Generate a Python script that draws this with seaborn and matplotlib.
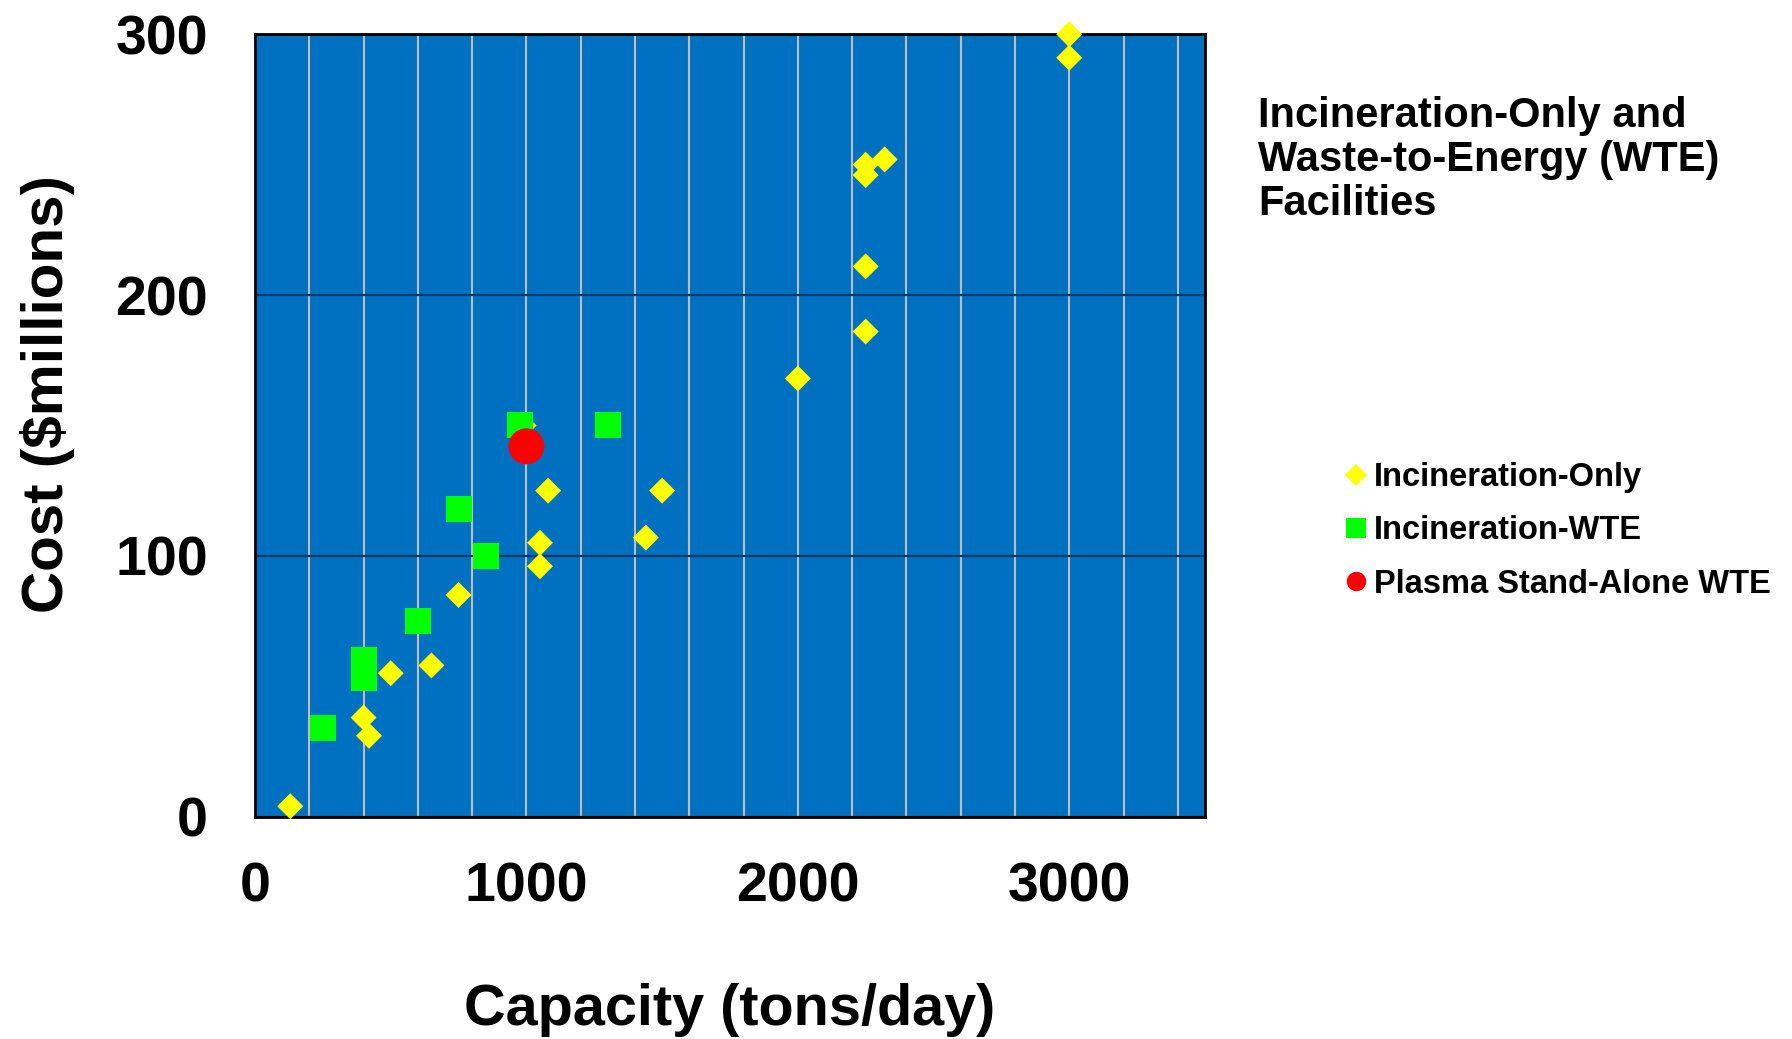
import matplotlib.pyplot as plt
import pandas as pd
import seaborn as sns
from matplotlib.lines import Line2D
from matplotlib.ticker import MultipleLocator

# capacity (tons/day) and cost ($ millions)
only_capacity = [130, 400, 420, 500, 650, 750, 990, 1050, 1050, 1080, 1440, 1500,
                 2000, 2250, 2250, 2250, 2250, 2320, 3000, 3000]
only_cost = [4, 38, 31, 55, 58, 85, 150, 105, 96, 125, 107, 125,
             168, 186, 211, 246, 250, 252, 291, 300]

wte_capacity = [250, 400, 400, 600, 750, 850, 975, 1300]
wte_cost = [34, 53, 60, 75, 118, 100, 150, 150]

plasma_capacity = [1000]
plasma_cost = [142]

x_ticks = [0, 1000, 2000, 3000]
y_ticks = [0, 100, 200, 300]

df_only = pd.DataFrame({"capacity": only_capacity, "cost": only_cost})
df_wte = pd.DataFrame({"capacity": wte_capacity, "cost": wte_cost})
df_plasma = pd.DataFrame({"capacity": plasma_capacity, "cost": plasma_cost})

sns.set_style("white")
plt.rcParams["font.family"] = ["Liberation Sans", "DejaVu Sans"]
plt.rcParams["font.weight"] = "bold"
plt.rcParams["text.color"] = "black"
plt.rcParams["axes.labelcolor"] = "black"
plt.rcParams["xtick.labelcolor"] = "black"
plt.rcParams["ytick.labelcolor"] = "black"

fig = plt.figure(figsize=(17.92, 10.39), dpi=100)
ax = fig.add_axes([0.1423, 0.214, 0.5301, 0.753])
ax.set_facecolor("#0070C0")

sns.scatterplot(data=df_only, x="capacity", y="cost", ax=ax, marker="D", s=175,
                color="#FFFF00", edgecolor="none", linewidth=0, clip_on=False, zorder=3, legend=False)
sns.scatterplot(data=df_wte, x="capacity", y="cost", ax=ax, marker="s", s=350,
                color="#00FF00", edgecolor="none", linewidth=0, clip_on=False, zorder=4, legend=False)
sns.scatterplot(data=df_plasma, x="capacity", y="cost", ax=ax, marker="o", s=670,
                color="#FF0000", edgecolor="none", linewidth=0, clip_on=False, zorder=5, legend=False)

ax.set_xlim(0, 3500)
ax.set_ylim(0, 300)
ax.set_xticks(x_ticks)
ax.set_yticks(y_ticks)
ax.xaxis.set_minor_locator(MultipleLocator(200))
ax.grid(which="minor", axis="x", color="#BDBDBD", linewidth=1.5, zorder=1)
ax.grid(which="major", axis="x", color="#BDBDBD", linewidth=1.5, zorder=1)
ax.grid(which="major", axis="y", color="#0A3A66", linewidth=1.6, zorder=1)
ax.set_axisbelow(True)

for sp in ax.spines.values():
    sp.set_color("black")
    sp.set_linewidth(2)
    sp.set_visible(True)

ax.tick_params(axis="both", which="major", direction="out", length=12, width=1.2,
               color="#888888", labelsize=40, labelcolor="black")
ax.tick_params(axis="y", pad=22)
ax.tick_params(axis="x", which="minor", length=0)
ax.tick_params(axis="x", pad=20)
for lab in ax.get_xticklabels() + ax.get_yticklabels():
    lab.set_fontweight("bold")

ax.set_xlabel("Capacity (tons/day)", fontsize=41.5, fontweight="bold", labelpad=50, color="black")
ax.set_ylabel("Cost ($millions)", fontsize=42, fontweight="bold", color="black")
ax.yaxis.set_label_coords(-0.19, 0.54)

fig.text(0.702, 0.908, "Incineration-Only and\nWaste-to-Energy (WTE)\nFacilities",
         fontsize=30, fontweight="heavy", va="top", ha="left", linespacing=1.13,
         color="black")

handles = [
    Line2D([], [], marker="D", linestyle="none", color="#FFFF00", markersize=11, markeredgewidth=0),
    Line2D([], [], marker="s", linestyle="none", color="#00FF00", markersize=14, markeredgewidth=0),
    Line2D([], [], marker="o", linestyle="none", color="#FF0000", markersize=14, markeredgewidth=0),
]
labels = ["Incineration-Only", "Incineration-WTE", "Plasma Stand-Alone WTE"]
fig.legend(handles, labels, loc="center left", bbox_to_anchor=(0.741, 0.489),
           frameon=False, prop={"weight": "bold", "size": 23.5},
           handlelength=0.7, handletextpad=0.2, labelspacing=0.68, borderpad=0)

fig.savefig("out.png", dpi=100, facecolor="white")
